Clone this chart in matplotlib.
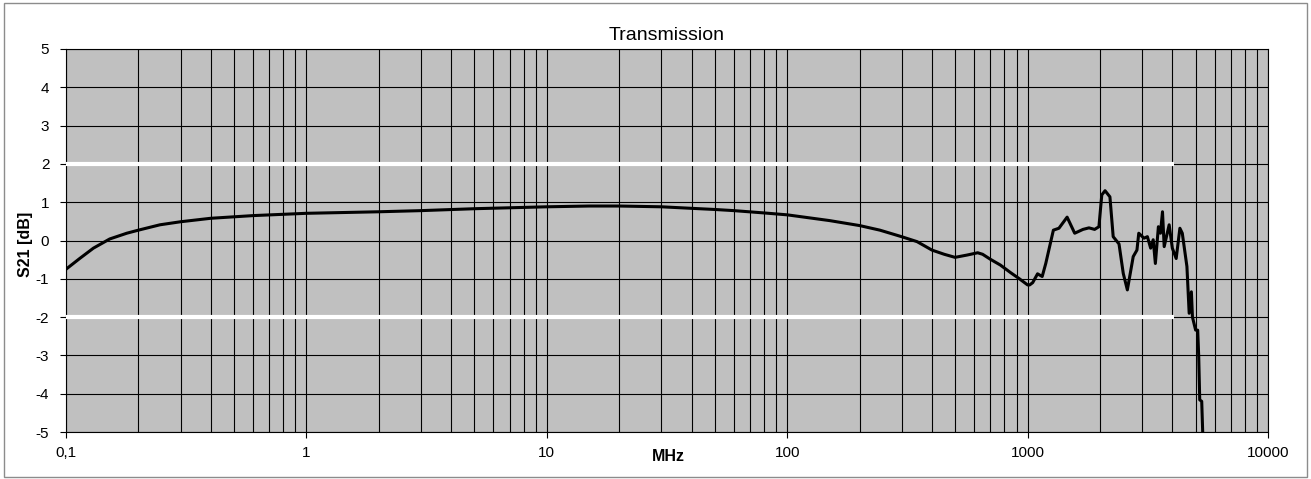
import matplotlib
matplotlib.use("Agg")
import matplotlib.pyplot as plt
from matplotlib.patches import Rectangle
from matplotlib.ticker import FixedLocator, LogLocator, NullFormatter

plt.rcParams['font.family'] = ['Liberation Sans', 'DejaVu Sans']

freq_mhz = [0.1, 0.114, 0.13, 0.152, 0.179, 0.2, 0.246, 0.3, 0.4, 0.6, 1, 2, 3, 5, 10, 15,
            20, 30, 40, 50, 60, 80, 100, 150, 200, 243, 299, 347, 400, 450, 499, 560, 620, 650,
            700, 770, 850, 920, 1000, 1020, 1050, 1100, 1150, 1190, 1280, 1350, 1460, 1570,
            1700, 1800, 1900, 1980, 2035, 2100, 2200, 2270, 2400, 2500, 2600, 2750, 2850,
            2900, 3050, 3150, 3250, 3330, 3400, 3500, 3570, 3640, 3700, 3880, 4000, 4150,
            4300, 4400, 4600, 4700, 4800, 4850, 5000, 5100, 5150, 5200, 5300, 5350]
s21_db = [-0.75, -0.47, -0.20, 0.04, 0.19, 0.27, 0.41, 0.49, 0.58, 0.65, 0.71, 0.75, 0.78,
          0.83, 0.88, 0.90, 0.90, 0.88, 0.84, 0.81, 0.78, 0.72, 0.67, 0.52, 0.39, 0.27, 0.10,
          -0.03, -0.25, -0.36, -0.44, -0.38, -0.32, -0.36, -0.49, -0.64, -0.84, -0.99,
          -1.16, -1.16, -1.10, -0.87, -0.94, -0.60, 0.27, 0.32, 0.61, 0.19, 0.29, 0.33,
          0.29, 0.36, 1.19, 1.30, 1.14, 0.10, -0.09, -0.86, -1.29, -0.42, -0.25, 0.19,
          0.06, 0.10, -0.20, 0.02, -0.60, 0.36, 0.19, 0.75, -0.16, 0.41, -0.20, -0.47,
          0.32, 0.19, -0.68, -1.90, -1.34, -2.00, -2.34, -2.34, -3.03, -4.16, -4.20, -5.0]

limit_x = [0.1, 4050]
limit_upper = [2, 2]
limit_lower = [-2, -2]

x_ticks = [0.1, 1, 10, 100, 1000, 10000]
x_tick_labels = ["0,1", "1", "10", "100", "1000", "10000"]
y_ticks = [-5, -4, -3, -2, -1, 0, 1, 2, 3, 4, 5]

fig = plt.figure(figsize=(13.11, 4.79), dpi=100)
ax = fig.add_axes([66/1311, 1-432/479, (1268-66)/1311, (432-49)/479])
ax.set_facecolor('#c0c0c0')
ax.set_xscale('log')
ax.set_xlim(0.1, 10000)
ax.set_ylim(-5, 5)

ax.xaxis.set_major_locator(FixedLocator(x_ticks))
ax.set_xticklabels(x_tick_labels)
ax.xaxis.set_minor_locator(LogLocator(base=10, subs=range(2, 10)))
ax.xaxis.set_minor_formatter(NullFormatter())
ax.set_yticks(y_ticks)
ax.set_yticklabels([str(v) for v in y_ticks])

ax.grid(True, which='major', axis='both', color='black', linewidth=0.8)
ax.grid(True, which='minor', axis='x', color='black', linewidth=0.8)
ax.set_axisbelow(True)

ax.tick_params(axis='both', which='major', direction='out', length=4, width=0.8,
               labelsize=11, colors='black')
ax.tick_params(axis='x', which='minor', length=0)
ax.tick_params(axis='x', pad=6)
ax.tick_params(axis='y', pad=8)
for sp in ax.spines.values():
    sp.set_color('black')
    sp.set_linewidth(0.8)

ax.plot(limit_x, limit_upper, color='white', linewidth=3, solid_capstyle='butt', zorder=3)
ax.plot(limit_x, limit_lower, color='white', linewidth=3, solid_capstyle='butt', zorder=3)

ax.plot(freq_mhz, s21_db, color='black', linewidth=2.2, zorder=4, clip_on=True)

ax.set_title('Transmission', fontsize=14, pad=6.5)
ax.set_xlabel('MHz', fontsize=11.5, fontweight='bold')
ax.xaxis.set_label_coords(0.5008, -0.044)
ax.set_ylabel('S21 [dB]', fontsize=11.5, fontweight='bold')
ax.yaxis.set_label_coords(-0.0275, 0.49)

fig.patches.append(Rectangle((0.003, 0.004), 0.994, 0.99, transform=fig.transFigure,
                             fill=False, edgecolor='#8c8c8c', linewidth=1))

fig.savefig('out.png', dpi=100)
